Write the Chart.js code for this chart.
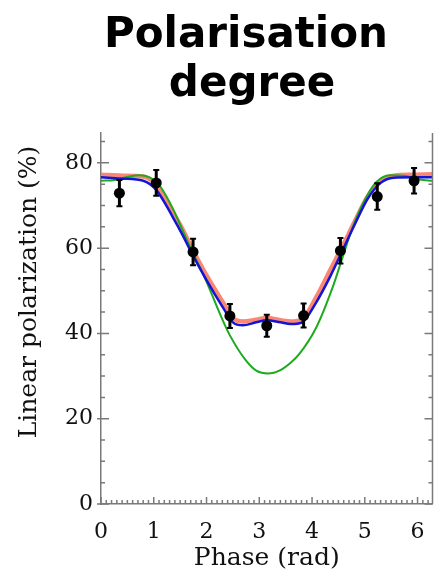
<!DOCTYPE html>
<html>
<head>
<meta charset="utf-8">
<script src="https://cdn.jsdelivr.net/npm/chart.js@4.4.1/dist/chart.umd.min.js"></script>
<style>
  html, body { margin: 0; padding: 0; background: #ffffff; overflow: hidden; }
  #wrap { position: relative; width: 435px; height: 573px; overflow: hidden; }
  #c { position: absolute; left: 0; top: 0; }
  .t { position: absolute; font-family: "DejaVu Sans", sans-serif; font-weight: bold; font-size: 42px;
       line-height: 49px; color: #000; white-space: pre; text-align: center; width: 400px; }
</style>
</head>
<body>
<div id="wrap">
  <canvas id="c" width="438" height="573"></canvas>
  <div class="t" style="left:46px; top:8px;">Polarisation</div>
  <div class="t" style="left:52px; top:57px;">degree</div>
</div>
<script>
// ---- data ----
const phaseObs = [0.349, 1.047, 1.745, 2.443, 3.142, 3.840, 4.538, 5.236, 5.934];
const polObs   = [72.9, 75.3, 59.1, 44.1, 41.8, 44.2, 59.4, 72.1, 75.8];
const polErr   = [3.1, 3.0, 3.1, 2.8, 2.6, 2.8, 3.0, 3.1, 3.0];

const redPhase = [0.00, 0.40, 0.80, 1.05, 1.36, 1.55, 1.70, 2.00, 2.31, 2.50, 2.69, 2.94, 3.14, 3.40, 3.60, 3.80, 4.08, 4.35, 4.58, 4.80, 5.05, 5.30, 5.55, 5.90, 6.283];
const redPol   = [77.2, 77.0, 76.8, 74.8, 68.5, 64.3, 60.5, 53.6, 47.3, 43.6, 42.8, 43.2, 43.6, 43.1, 42.8, 43.2, 48.5, 55.0, 60.5, 66.0, 72.0, 75.8, 77.0, 77.2, 77.3];

const bluePhase = [0.00, 0.40, 0.80, 1.05, 1.36, 1.55, 1.70, 2.00, 2.31, 2.50, 2.69, 2.94, 3.14, 3.40, 3.60, 3.80, 4.08, 4.35, 4.58, 4.80, 5.05, 5.30, 5.55, 5.90, 6.283];
const bluePol   = [76.6, 76.3, 75.8, 73.6, 67.3, 63.0, 59.3, 52.5, 46.1, 42.6, 41.9, 42.6, 43.1, 42.6, 42.2, 42.5, 47.3, 53.5, 59.5, 65.3, 71.5, 75.3, 76.5, 76.6, 76.6];

const greenPhase = [0.00, 0.26, 0.50, 0.73, 0.92, 1.07, 1.20, 1.36, 1.68, 1.99, 2.31, 2.44, 2.75, 2.95, 3.16, 3.40, 3.60, 3.76, 4.08, 4.39, 4.58, 4.77, 5.03, 5.22, 5.47, 5.78, 6.04, 6.283];
const greenPol   = [75.8, 76.0, 76.7, 77.1, 76.6, 75.3, 73.0, 69.3, 60.5, 52.4, 43.0, 39.6, 33.6, 31.2, 30.6, 31.4, 33.2, 35.2, 41.4, 50.8, 57.9, 64.9, 72.0, 75.5, 77.1, 76.9, 76.1, 75.8];

const xTicks = [0, 1, 2, 3, 4, 5, 6];
const yTicks = [0, 20, 40, 60, 80];
const xMax = 2 * Math.PI;
const yMax = 87;

const pts = (xs, ys) => xs.map((v, i) => ({ x: v, y: ys[i] }));

const errorBars = {
  id: 'errorBars',
  afterDatasetsDraw(chart) {
    const { ctx, scales: { x, y } } = chart;
    ctx.save();
    ctx.strokeStyle = '#000';
    phaseObs.forEach((p, i) => {
      const px = x.getPixelForValue(p);
      const top = y.getPixelForValue(polObs[i] + polErr[i]);
      const bot = y.getPixelForValue(polObs[i] - polErr[i]);
      ctx.lineWidth = 3;
      ctx.beginPath(); ctx.moveTo(px, top); ctx.lineTo(px, bot); ctx.stroke();
      ctx.lineWidth = 2;
      ctx.beginPath();
      ctx.moveTo(px - 3, top); ctx.lineTo(px + 3, top);
      ctx.moveTo(px - 3, bot); ctx.lineTo(px + 3, bot);
      ctx.stroke();
    });
    ctx.restore();
  }
};

const axisFrame = {
  id: 'axisFrame',
  afterDraw(chart) {
    const { ctx, chartArea: a, scales: { x, y } } = chart;
    ctx.save();
    ctx.strokeStyle = '#7a7a7a';
    ctx.lineWidth = 1.5;
    ctx.beginPath();
    ctx.moveTo(a.right, a.top); ctx.lineTo(a.right, a.bottom);
    for (let v = 0; v <= 85; v += 5) {
      const py = y.getPixelForValue(v);
      const maj = v % 20 === 0;
      ctx.moveTo(a.left - (maj ? 4 : 0), py); ctx.lineTo(a.left + (maj ? 8 : 4), py);
      ctx.moveTo(a.right - (maj ? 8 : 4), py); ctx.lineTo(a.right, py);
    }
    for (let i = 0; i <= 62; i++) {
      const px = x.getPixelForValue(i / 10);
      const maj = i % 10 === 0;
      ctx.moveTo(px, a.bottom); ctx.lineTo(px, a.bottom - (maj ? 7 : 4));
    }
    ctx.stroke();
    // y axis title
    ctx.fillStyle = '#111';
    ctx.font = '25px "DejaVu Serif"';
    ctx.textAlign = 'center';
    ctx.textBaseline = 'middle';
    ctx.translate(29, 292);
    ctx.rotate(-Math.PI / 2);
    ctx.fillText('Linear polarization (%)', 0, 0);
    ctx.restore();
  }
};

const curve = (label, xs, ys, color, width) => ({
  label, data: pts(xs, ys), borderColor: color, borderWidth: width,
  pointRadius: 0, cubicInterpolationMode: 'monotone', fill: false
});

const noPad = s => { s.paddingLeft = 0; s.paddingRight = 0; s.paddingTop = 0; s.paddingBottom = 0; };

new Chart(document.getElementById('c'), {
  type: 'line',
  data: {
    datasets: [
      { label: 'Observed', data: pts(phaseObs, polObs), showLine: false, pointRadius: 5.5,
        pointBackgroundColor: '#000', pointBorderColor: '#000', pointBorderWidth: 0 },
      curve('Blue', bluePhase, bluePol, 'rgb(20,20,215)', 2.5),
      curve('Green', greenPhase, greenPol, 'rgb(30,170,30)', 2),
      curve('Red', redPhase, redPol, 'rgb(250,135,115)', 4.5)
    ]
  },
  options: {
    responsive: false,
    animation: false,
    layout: { padding: { top: 133, right: 2, left: 0, bottom: 0 } },
    plugins: { legend: { display: false }, title: { display: false }, tooltip: { enabled: false } },
    scales: {
      x: {
        type: 'linear', min: 0, max: xMax,
        afterBuildTicks: s => { s.ticks = xTicks.map(v => ({ value: v })); },
        afterFit: s => { s.height = 69; noPad(s); },
        grid: { display: false, drawTicks: false },
        border: { display: true, color: '#7a7a7a', width: 1.5 },
        ticks: { padding: 15, color: '#111', font: { family: 'DejaVu Serif', size: 22 }, maxRotation: 0 },
        title: { display: true, text: 'Phase (rad)', color: '#111', font: { family: 'DejaVu Serif', size: 25 },
                 padding: { top: 0, bottom: 0 } }
      },
      y: {
        type: 'linear', min: 0, max: yMax,
        afterBuildTicks: s => { s.ticks = yTicks.map(v => ({ value: v })); },
        afterFit: s => { s.width = 101; noPad(s); },
        grid: { display: false, drawTicks: false },
        border: { display: true, color: '#7a7a7a', width: 1.5 },
        ticks: { padding: 8, color: '#111', font: { family: 'DejaVu Serif', size: 22 } }
      }
    }
  },
  plugins: [errorBars, axisFrame]
});
</script>
</body>
</html>
